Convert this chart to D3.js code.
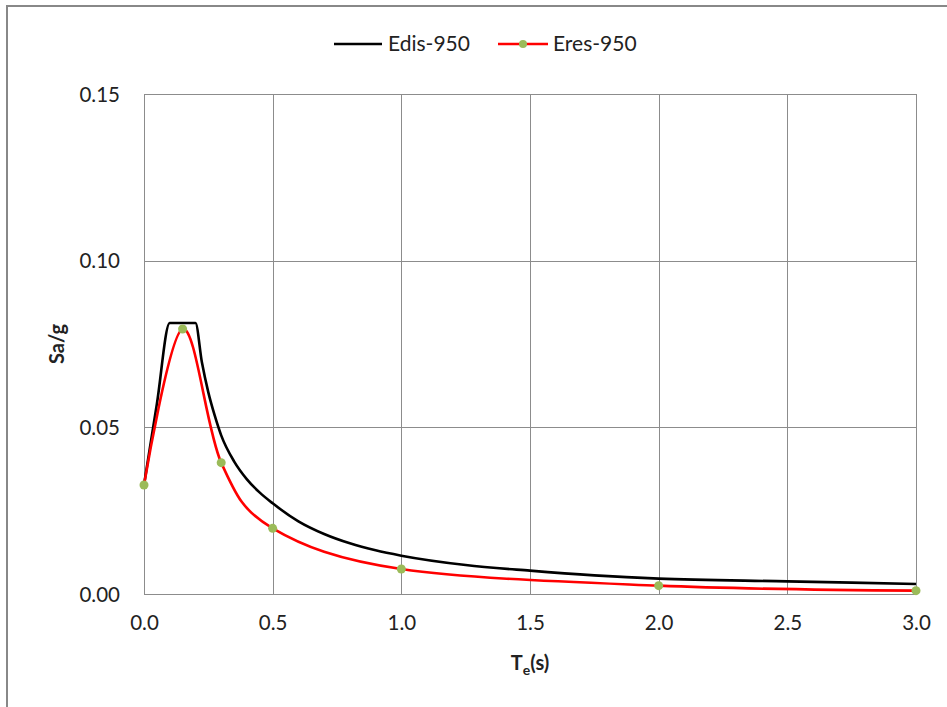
<!DOCTYPE html>
<html>
<head>
<meta charset="utf-8">
<script src="https://cdn.jsdelivr.net/npm/d3@7"></script>
<style>
  html, body { margin: 0; padding: 0; background: #fff; }
  svg { display: block; }
  text { font-family: Lato, "Open Sans", sans-serif; fill: #222; }
</style>
</head>
<body>
<svg id="chart" width="947" height="707"></svg>
<script>
// Design spectrum (black, no markers)
const edisT  = [0, 0.05, 0.1, 0.15, 0.2, 0.225, 0.25, 0.275, 0.3, 0.35, 0.4, 0.45, 0.5, 0.6, 0.7, 0.8, 0.9, 1.0, 1.25, 1.5, 1.75, 2.0, 2.5, 3.0];
const edisSa = [0.0327, 0.0570, 0.0813, 0.0813, 0.0813, 0.0695, 0.0605, 0.0535, 0.0476, 0.0398, 0.0344, 0.0304, 0.0272, 0.0218, 0.0180, 0.0152, 0.0131, 0.0115, 0.0087, 0.0070, 0.0056, 0.0046, 0.0038, 0.0030];

// Response spectrum (red, with markers)
const eresT  = [0, 0.15, 0.3, 0.5, 1.0, 2.0, 3.0];
const eresSa = [0.0327, 0.0795, 0.0394, 0.0197, 0.0075, 0.0025, 0.0010];

const seriesNames = ["Edis-950", "Eres-950"];
const xTicks = [0, 0.5, 1.0, 1.5, 2.0, 2.5, 3.0];
const yTicks = [0, 0.05, 0.10, 0.15];

const svg = d3.select("#chart");
const W = 947, H = 707;
const plot = { left: 144, right: 916, top: 94, bottom: 594 };

const x = d3.scaleLinear().domain([0, 3]).range([plot.left, plot.right]);
const y = d3.scaleLinear().domain([0, 0.15]).range([plot.bottom, plot.top]);

const gridColor = "#8c8c8c";

// chart frame (top and left edges)
svg.append("path")
  .attr("d", `M7,${H} L7,6 L${W},6`)
  .attr("fill", "none")
  .attr("stroke", "#888")
  .attr("stroke-width", 2);

// grid
const grid = svg.append("g");
grid.selectAll("line.v").data(xTicks).join("line")
  .attr("x1", d => Math.round(x(d)) + 0.5).attr("x2", d => Math.round(x(d)) + 0.5)
  .attr("y1", plot.top).attr("y2", plot.bottom)
  .attr("stroke", gridColor).attr("stroke-width", 1);
grid.selectAll("line.h").data(yTicks).join("line")
  .attr("y1", d => Math.round(y(d)) + 0.5).attr("y2", d => Math.round(y(d)) + 0.5)
  .attr("x1", plot.left).attr("x2", plot.right)
  .attr("stroke", gridColor).attr("stroke-width", 1);

// axes (labels only; lines come from the grid)
const xAxis = d3.axisBottom(x).tickValues(xTicks).tickFormat(d3.format(".1f")).tickSize(0).tickPadding(24);
const yAxis = d3.axisLeft(y).tickValues(yTicks).tickFormat(d3.format(".2f")).tickSize(0).tickPadding(24);

const gx = svg.append("g").attr("transform", `translate(0,${plot.bottom})`).call(xAxis);
const gy = svg.append("g").attr("transform", `translate(${plot.left},0)`).call(yAxis);
[gx, gy].forEach(g => {
  g.select(".domain").remove();
  g.selectAll("text").style("font-family", "Lato, 'Open Sans', sans-serif").style("font-size", "20.5px").attr("fill", "#222");
});
gy.selectAll("text").attr("dy", "0.35em");
gx.selectAll("text").attr("dy", "0.6em");

// axis titles
svg.append("text")
  .attr("transform", `translate(64,${(plot.top + plot.bottom) / 2}) rotate(-90)`)
  .attr("text-anchor", "middle")
  .style("font-size", "20px").style("font-weight", "bold")
  .text("Sa/g");

const xt = svg.append("text")
  .attr("x", (plot.left + plot.right) / 2).attr("y", 670)
  .attr("text-anchor", "middle")
  .style("font-size", "20px").style("font-weight", "bold");
xt.append("tspan").text("T");
xt.append("tspan").attr("dy", 5).style("font-size", "14px").text("e");
xt.append("tspan").attr("dy", -5).text("(s)");

// series
const edis = edisT.map((t, i) => [t, edisSa[i]]);
const eres = eresT.map((t, i) => [t, eresSa[i]]);

svg.append("path")
  .datum(edis)
  .attr("fill", "none").attr("stroke", "#000").attr("stroke-width", 2.6)
  .attr("stroke-linejoin", "round")
  .attr("d", d3.line().x(d => x(d[0])).y(d => y(d[1])).curve(d3.curveMonotoneX));

svg.append("path")
  .datum(eres)
  .attr("fill", "none").attr("stroke", "#ff0000").attr("stroke-width", 2.6)
  .attr("stroke-linejoin", "round")
  .attr("d", d3.line().x(d => x(d[0])).y(d => y(d[1])).curve(d3.curveCardinal.tension(0)));

svg.append("g").selectAll("circle").data(eres).join("circle")
  .attr("cx", d => x(d[0])).attr("cy", d => y(d[1])).attr("r", 4.5)
  .attr("fill", "#9bbb59");

// legend
const lg = svg.append("g");
lg.append("line").attr("x1", 334).attr("x2", 382).attr("y1", 44).attr("y2", 44)
  .attr("stroke", "#000").attr("stroke-width", 2.6);
lg.append("text").attr("x", 388).attr("y", 44).attr("dy", "0.35em")
  .style("font-size", "21px").text(seriesNames[0]);
lg.append("line").attr("x1", 498).attr("x2", 548).attr("y1", 44).attr("y2", 44)
  .attr("stroke", "#ff0000").attr("stroke-width", 2.6);
lg.append("circle").attr("cx", 523).attr("cy", 44).attr("r", 4).attr("fill", "#9bbb59");
lg.append("text").attr("x", 553).attr("y", 44).attr("dy", "0.35em")
  .style("font-size", "21px").text(seriesNames[1]);
</script>
</body>
</html>
